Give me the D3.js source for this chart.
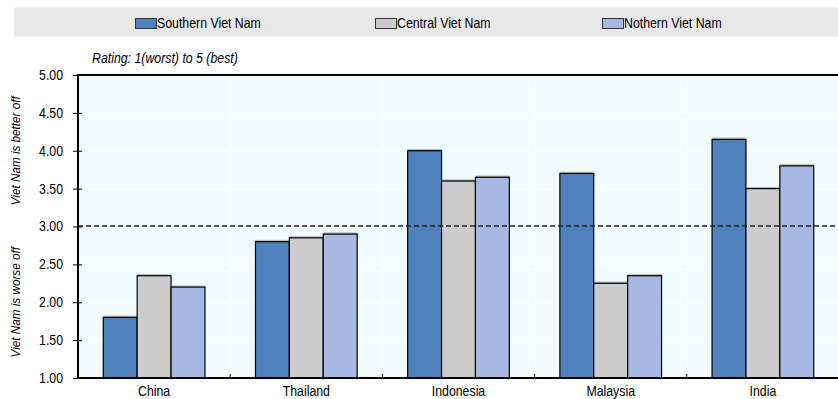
<!DOCTYPE html>
<html>
<head>
<meta charset="utf-8">
<script src="https://cdn.jsdelivr.net/npm/d3@7"></script>
<style>
  html, body { margin: 0; padding: 0; background: #ffffff; }
  svg { display: block; }
  text { font-family: "Liberation Sans", Arial, sans-serif; fill: #000; }
</style>
</head>
<body>
<svg id="chart" width="838" height="399"></svg>
<script>
// Ratings by region, per comparison country
const countries = ["China", "Thailand", "Indonesia", "Malaysia", "India"];
const seriesNames = ["Southern Viet Nam", "Central Viet Nam", "Nothern Viet Nam"];
const southern = [1.80, 2.80, 4.00, 3.70, 4.15];
const central  = [2.35, 2.85, 3.60, 2.25, 3.50];
const northern = [2.20, 2.90, 3.65, 2.35, 3.80];
const yTicks = [1.00, 1.50, 2.00, 2.50, 3.00, 3.50, 4.00, 4.50, 5.00];
const parityLevel = 3.0;
const colors = ["#4f81bd", "#cccccc", "#a7b9e3"];

const seriesValues = [southern, central, northern];
const svg = d3.select("#chart");

// Narrow the text horizontally, like a condensed face
function condense(sel, k) {
  sel.each(function() {
    const w = this.getComputedTextLength();
    this.setAttribute("textLength", (w * k).toFixed(2));
    this.setAttribute("lengthAdjust", "spacingAndGlyphs");
  });
}

const W = 838, H = 399;
const x0 = 78, x1 = W;
const yTop = 75, yBot = 378;

const x = d3.scaleBand().domain(countries).range([x0, x1 + 1]);
const xs = d3.scaleBand().domain(d3.range(3)).range([0, x.bandwidth()]).paddingOuter(0.745);
const y = d3.scaleLinear().domain([1, 5]).range([yBot, yTop]);

// Legend band
svg.append("rect").attr("x", 14).attr("y", 7.5).attr("width", W - 14).attr("height", 29).attr("fill", "#e8e8e8");
const legendX = [135, 375, 602];
seriesNames.forEach((name, i) => {
  const g = svg.append("g").attr("transform", `translate(${legendX[i]},18)`);
  g.append("rect").attr("x", 0.5).attr("y", 0.5).attr("width", 21).attr("height", 10)
    .attr("fill", colors[i]).attr("stroke", "#333").attr("stroke-width", 1);
  g.append("text").attr("x", 22).attr("y", 10.3).attr("font-size", 14).text(name).call(condense, 0.88);
});

// Subtitle
svg.append("text").attr("x", 92).attr("y", 63).attr("font-size", 14)
  .attr("font-style", "italic").text("Rating: 1(worst) to 5 (best)").call(condense, 0.88);

// Plot background
svg.append("rect").attr("x", x0).attr("y", yTop).attr("width", x1 - x0).attr("height", yBot - yTop)
  .attr("fill", "#f1fdfd");

// Gridlines
svg.append("g").selectAll("line").data(yTicks.slice(1, -1)).join("line")
  .attr("x1", x0).attr("x2", x1).attr("y1", d => y(d)).attr("y2", d => y(d))
  .attr("stroke", "#ffffff").attr("stroke-width", 1);
svg.append("g").selectAll("line").data(countries.slice(1)).join("line")
  .attr("x1", d => x(d)).attr("x2", d => x(d)).attr("y1", yTop).attr("y2", yBot)
  .attr("stroke", "#ffffff").attr("stroke-width", 1);

// Bars
const groups = svg.append("g").selectAll("g").data(countries).join("g")
  .attr("transform", d => `translate(${x(d)},0)`);
groups.each(function(c, ci) {
  const g = d3.select(this);
  seriesValues.forEach((vals, si) => {
    const v = vals[ci];
    g.append("rect")
      .attr("x", xs(si)).attr("y", y(v) - 1.8)
      .attr("width", xs.bandwidth()).attr("height", 1.8)
      .attr("fill", "#888").attr("opacity", 0.55);
    g.append("rect")
      .attr("x", xs(si)).attr("y", y(v))
      .attr("width", xs.bandwidth()).attr("height", yBot - y(v))
      .attr("fill", colors[si]).attr("stroke", "#000").attr("stroke-width", 1.2);
  });
});

// Parity line
svg.append("line").attr("x1", x0).attr("x2", x1).attr("y1", y(parityLevel) - 0.5).attr("y2", y(parityLevel) - 0.5)
  .attr("stroke", "#222").attr("stroke-width", 1.3).attr("stroke-dasharray", "5,3");

// Frame (top, left, bottom)
svg.append("path")
  .attr("d", `M${x1},${yTop}H${x0}V${yBot}H${x1}`)
  .attr("fill", "none").attr("stroke", "#000").attr("stroke-width", 2);

// Y axis
const yAxis = svg.append("g").attr("transform", `translate(${x0},0)`)
  .call(d3.axisLeft(y).tickValues(yTicks).tickFormat(d3.format(".2f")).tickSize(5).tickSizeOuter(0).tickPadding(10));
yAxis.select(".domain").remove();
yAxis.selectAll(".tick line").attr("x2", 4).attr("x1", -5).attr("stroke", "#000").attr("stroke-width", 1);
yAxis.selectAll(".tick text").attr("font-size", 14).attr("font-family", null).attr("fill", "#000").call(condense, 0.88);

// X axis
const xAxis = svg.append("g").attr("transform", `translate(0,${yBot})`)
  .call(d3.axisBottom(x).tickSize(0).tickPadding(0));
xAxis.select(".domain").remove();
xAxis.selectAll(".tick text").attr("font-size", 14).attr("font-family", null).attr("fill", "#000")
  .attr("dy", null).attr("y", 17.5).call(condense, 0.88);
svg.append("g").selectAll("line").data(countries.slice(1)).join("line")
  .attr("x1", d => x(d)).attr("x2", d => x(d)).attr("y1", yBot).attr("y2", yBot - 4)
  .attr("stroke", "#000").attr("stroke-width", 1);

// Y axis titles
svg.append("text").attr("transform", `translate(20,${(yTop + y(parityLevel)) / 2}) rotate(-90)`)
  .attr("text-anchor", "middle").attr("font-size", 13).attr("font-style", "italic")
  .text("Viet Nam is better off").call(condense, 0.9);
svg.append("text").attr("transform", `translate(20,${(yBot + y(parityLevel)) / 2}) rotate(-90)`)
  .attr("text-anchor", "middle").attr("font-size", 13).attr("font-style", "italic")
  .text("Viet Nam is worse off").call(condense, 0.9);
</script>
</body>
</html>
